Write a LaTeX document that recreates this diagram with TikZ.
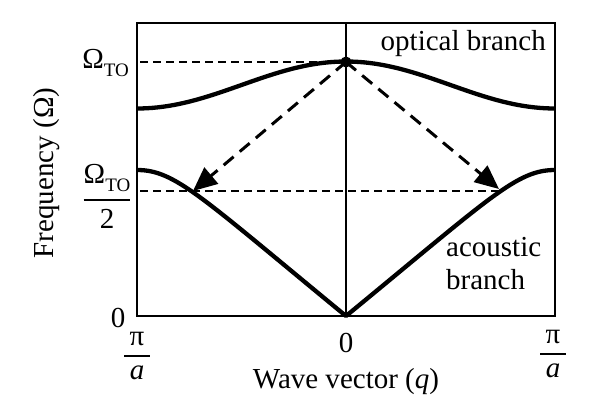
\documentclass[tikz,border=0pt]{standalone}
\usepackage{fontspec}
\setmainfont{Liberation Serif}
\usetikzlibrary{arrows.meta}
\newcommand{\stackfrac}[2]{$\displaystyle{\hbox{#1}\above 2.5pt\hbox{#2}}$}
\newcommand{\omto}{Ω\raisebox{-8pt}{\fontsize{19}{19}\selectfont TO}}
\begin{document}
\begin{tikzpicture}[x=1pt,y=-1pt,
  lbl/.style={inner sep=0pt, font=\fontsize{29}{33}\selectfont},
  frameline/.style={line width=2pt},
  branchcurve/.style={line width=4.3pt, line join=round},
  guide/.style={line width=1.4pt, dash pattern=on 8pt off 5pt},
  transition/.style={line width=3pt, dash pattern=on 13pt off 8pt, -{Triangle[length=24pt,width=21pt]}},
  dot/.style={circle, fill=black, inner sep=0pt, minimum size=11pt}]
\useasboundingbox (0,0) rectangle (597,402);
% frame and zone-centre line
\draw[frameline] (137,23) rectangle (555,316);
\coordinate (ctop) at (346,23);
\coordinate (cbot) at (346,316);
\draw[frameline] (ctop) -- (cbot);
% branches
\draw[branchcurve] plot[domain=-1:1, samples=80] ({346+209*\x},{85-23.5*cos(180*\x)});
\draw[branchcurve] (137,170) .. controls (175,170) and (200,196) .. (cbot)
                   .. controls (492,196) and (517,170) .. (555,170);
% Gamma point
\node[dot] (gamma) at (346,62) {};
% guides
\coordinate (topleft) at (140,62);
\draw[guide] (topleft) -- (gamma.center);
\coordinate (halfleft) at (140,191);
\coordinate (halfright) at (499,191);
\draw[guide] (halfleft) -- (halfright);
% transitions
\coordinate (hitleft) at (193,191);
\coordinate (hitright) at (499,189);
\draw[transition] (gamma.center) -- (hitleft);
\draw[transition] (gamma.center) -- (hitright);
% labels
\node[lbl, anchor=base east] (omtolbl) at (129,68) {\omto};
\node[lbl] (omhalf) at (107,196) {\stackfrac{\omto}{2}};
\node[lbl] (zeroleft) at (118,318) {0};
\node[lbl] (qleft) at (137,356) {\stackfrac{\hbox to 26pt{\hss π\hss}}{\hbox to 26pt{\hss\itshape a\hss}}};
\node[lbl] (qright) at (553,354) {\stackfrac{\hbox to 26pt{\hss π\hss}}{\hbox to 26pt{\hss\itshape a\hss}}};
\node[lbl] (zeroq) at (346,343) {0};
\node[lbl, anchor=base] (xlabel) at (346,388) {Wave vector (\textit{q})};
\node[lbl, rotate=90] (ylabel) at (47,173) {Frequency (Ω)};
\node[lbl, anchor=base east] (optlbl) at (546,50) {optical branch};
\node[lbl, align=left, anchor=north west] (acolbl) at (446,237) {acoustic\\branch};
\end{tikzpicture}
\end{document}
